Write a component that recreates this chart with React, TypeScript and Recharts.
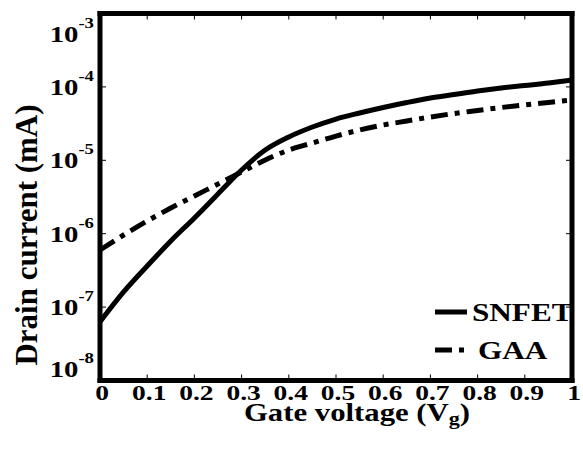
import React from 'react';
import { LineChart, Line, XAxis, YAxis, ReferenceLine, Legend } from 'recharts';

// Gate voltage sweep (V) and drain currents (mA)
const gateVoltage = [0, 0.05, 0.1, 0.15, 0.2, 0.25, 0.3, 0.35, 0.4, 0.45, 0.5, 0.55, 0.6, 0.65, 0.7, 0.75, 0.8, 0.85, 0.9, 0.95, 1.0];
const snfetCurrent = [6.3e-8, 1.61e-7, 3.63e-7, 7.96e-7, 1.64e-6, 3.48e-6, 7.38e-6, 1.38e-5, 2.08e-5, 2.84e-5, 3.65e-5, 4.41e-5, 5.24e-5, 6.13e-5, 7.06e-5, 7.87e-5, 8.79e-5, 9.66e-5, 1.045e-4, 1.13e-4, 1.24e-4];
const gaaCurrent = [6.0e-7, 9.6e-7, 1.49e-6, 2.24e-6, 3.27e-6, 4.75e-6, 6.93e-6, 1.01e-5, 1.38e-5, 1.72e-5, 2.14e-5, 2.59e-5, 3.03e-5, 3.43e-5, 3.89e-5, 4.34e-5, 4.77e-5, 5.24e-5, 5.67e-5, 6.13e-5, 6.63e-5];

const xTicks = [0, 0.1, 0.2, 0.3, 0.4, 0.5, 0.6, 0.7, 0.8, 0.9, 1];
const yTicks = [1e-8, 1e-7, 1e-6, 1e-5, 1e-4, 1e-3];

const seriesNames = ['SNFET', 'GAA'];

const rows = gateVoltage.map((v, i) => ({ vg: v, SNFET: snfetCurrent[i], GAA: gaaCurrent[i] }));

const WIDTH = 583;
const HEIGHT = 450;
const MARGIN = { top: 13.5, right: 11, bottom: 0, left: 0 };
const Y_AXIS_W = 100;
const X_AXIS_H = 69.5;
const PLOT_LEFT = MARGIN.left + Y_AXIS_W;
const PLOT_RIGHT = WIDTH - MARGIN.right;
const PLOT_TOP = MARGIN.top;
const PLOT_BOTTOM = HEIGHT - MARGIN.bottom - X_AXIS_H;

const FONT = "'Liberation Serif', 'DejaVu Serif', serif";
const textStyle: React.CSSProperties = { fontFamily: FONT, fontWeight: 700 };
const STRETCH = 1.25;
const DASH_DOT = '17 7 5 7';

const styles: Record<string, { dash?: string }> = {
  SNFET: {},
  GAA: { dash: DASH_DOT },
};

function YTick(props: any) {
  const { x, y, payload } = props;
  const exp = Math.round(Math.log10(payload.value));
  const c = Math.min(Math.max(y, PLOT_TOP + 20), PLOT_BOTTOM - 12);
  return (
    <g>
      <line x1={PLOT_LEFT} x2={PLOT_LEFT + 6} y1={y} y2={y} stroke="#000" strokeWidth={1} />
      <line x1={PLOT_RIGHT} x2={PLOT_RIGHT - 6} y1={y} y2={y} stroke="#000" strokeWidth={1} />
      <g transform={`translate(${x},${c + 8}) scale(${STRETCH},1)`}>
        <text x={0} y={0} textAnchor="end" style={{ ...textStyle, fontSize: 23 }} fill="#000">
          10
          <tspan dy={-14} style={{ fontSize: 15 }}>{`-${-exp}`}</tspan>
        </text>
      </g>
    </g>
  );
}

function XTick(props: any) {
  const { x, y, payload } = props;
  return (
    <g>
      <line x1={x} x2={x} y1={PLOT_BOTTOM} y2={PLOT_BOTTOM - 6} stroke="#000" strokeWidth={1} />
      <line x1={x} x2={x} y1={PLOT_TOP} y2={PLOT_TOP + 6} stroke="#000" strokeWidth={1} />
      <g transform={`translate(${x + 2},${y + 19}) scale(${STRETCH},1)`}>
        <text x={0} y={0} textAnchor="middle" style={{ ...textStyle, fontSize: 22 }} fill="#000">
          {String(payload.value)}
        </text>
      </g>
    </g>
  );
}

function XTitle(props: any) {
  const vb = props.viewBox;
  const cx = vb.x + vb.width / 2 + 21;
  return (
    <g transform={`translate(${cx},${PLOT_BOTTOM + 40}) scale(1.23,1)`}>
      <text x={0} y={0} textAnchor="middle" style={{ ...textStyle, fontSize: 25 }} fill="#000">
        Gate voltage (V
        <tspan dy={4} style={{ fontSize: 18 }}>g</tspan>
        <tspan dy={-4}>)</tspan>
      </text>
    </g>
  );
}

function YTitle(props: any) {
  const vb = props.viewBox;
  const cy = vb.y + vb.height / 2 + 38;
  return (
    <g transform={`translate(37,${cy}) rotate(-90)`}>
      <text x={0} y={0} textAnchor="middle" style={{ ...textStyle, fontSize: 31 }} fill="#000">
        Drain current (mA)
      </text>
    </g>
  );
}

function LegendBox() {
  return (
    <svg width={145} height={70} style={{ display: 'block' }}>
      {seriesNames.map((name, i) => {
        const cy = 17 + i * 38;
        return (
          <g key={name}>
            <line x1={5} x2={37} y1={cy} y2={cy} stroke="#000" strokeWidth={5} strokeDasharray={styles[name].dash} />
            <g transform={`translate(${name === 'GAA' ? 48 : 42},${cy + 9}) scale(1.2,1)`}>
              <text x={0} y={0} style={{ ...textStyle, fontSize: 26 }} fill="#000">
                {name}
              </text>
            </g>
          </g>
        );
      })}
    </svg>
  );
}

export default function App() {
  return (
    <div style={{ position: 'absolute', left: 0, top: 0, background: '#fff' }}>
      <LineChart width={WIDTH} height={HEIGHT} data={rows} margin={MARGIN}>
        <XAxis
          dataKey="vg"
          type="number"
          domain={[0, 1]}
          ticks={xTicks}
          height={X_AXIS_H}
          tickSize={0}
          tickMargin={0}
          tickLine={false}
          tick={(p: any) => <XTick {...p} />}
          axisLine={{ stroke: '#000', strokeWidth: 5, strokeLinecap: 'square' }}
          label={{ content: (p: any) => <XTitle {...p} /> }}
          interval={0}
        />
        <YAxis
          type="number"
          scale="log"
          domain={[1e-8, 1e-3]}
          ticks={yTicks}
          allowDataOverflow
          width={Y_AXIS_W}
          tickSize={0}
          tickMargin={6}
          tickLine={false}
          tick={(p: any) => <YTick {...p} />}
          axisLine={{ stroke: '#000', strokeWidth: 5, strokeLinecap: 'square' }}
          label={{ content: (p: any) => <YTitle {...p} /> }}
          interval={0}
        />
        <ReferenceLine y={1e-3} stroke="#000" strokeWidth={5} strokeLinecap="square" />
        <ReferenceLine x={1} stroke="#000" strokeWidth={5} strokeLinecap="square" />
        {seriesNames.map((name) => (
          <Line
            key={name}
            dataKey={name}
            name={name}
            type="monotone"
            stroke="#000"
            strokeWidth={5}
            strokeDasharray={styles[name].dash}
            dot={false}
            activeDot={false}
            isAnimationActive={false}
          />
        ))}
        <Legend
          layout="horizontal"
          verticalAlign="middle"
          align="center"
          content={() => <LegendBox />}
          wrapperStyle={{ position: 'absolute', left: 430, top: 295, width: 145, height: 70 }}
        />
      </LineChart>
    </div>
  );
}
